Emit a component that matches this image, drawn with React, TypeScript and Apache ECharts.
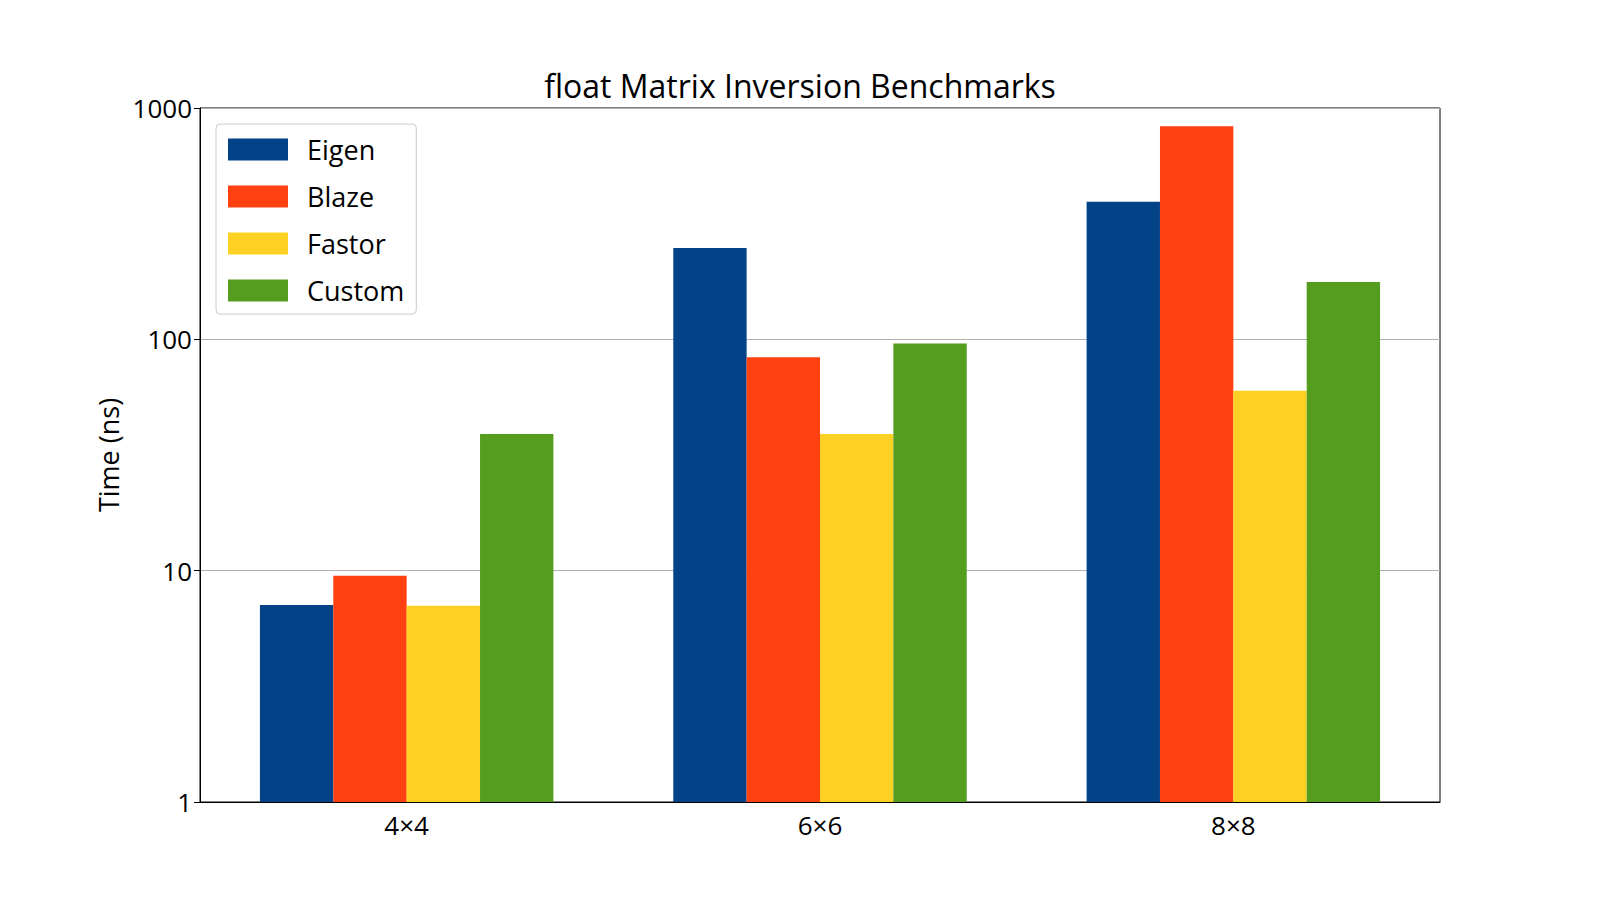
import React, { useEffect, useRef } from "react";
import * as echarts from "echarts";

const categories = ["4×4", "6×6", "8×8"];
const eigen = [7.1, 248, 393];
const blaze = [9.5, 83.6, 834];
const fastor = [7.05, 39, 60];
const custom = [39, 96, 177];
const seriesNames = ["Eigen", "Blaze", "Fastor", "Custom"];
const colors = ["#034287", "#FF4112", "#FDD123", "#559D1F"];

export default function App() {
  const ref = useRef<HTMLDivElement>(null);
  useEffect(() => {
    const chart = echarts.init(ref.current!, null, { renderer: "svg" });
    const font = "Open Sans";
    const data = [eigen, blaze, fastor, custom];
    chart.setOption({
      animation: false,
      textStyle: { fontFamily: font },
      title: {
        text: "float Matrix Inversion Benchmarks",
        left: "center",
        top: 56,
        textStyle: { fontSize: 32, fontWeight: "normal", color: "#000", fontFamily: font },
      },
      grid: { left: 192, right: 152, top: 100, bottom: 90, show: true, borderColor: "#000", borderWidth: 1 },
      legend: {
        orient: "vertical",
        left: 208,
        top: 116,
        padding: [12, 12, 10, 12],
        itemGap: 20,
        itemWidth: 60,
        itemHeight: 22,
        icon: "rect",
        borderColor: "#ccc",
        borderWidth: 1,
        borderRadius: 4,
        textStyle: { fontSize: 27, color: "#000", fontFamily: font, padding: [0, 0, 0, 14] },
        data: seriesNames,
      },
      xAxis: {
        type: "category",
        data: categories,
        axisLine: { lineStyle: { color: "#000" } },
        axisTick: { alignWithLabel: true, lineStyle: { color: "#000" }, length: 6 },
        axisLabel: { fontSize: 26, color: "#000", margin: 10 },
      },
      yAxis: {
        type: "log",
        logBase: 10,
        min: 1,
        max: 1000,
        name: "Time (ns)",
        nameLocation: "middle",
        nameGap: 72,
        nameTextStyle: { fontSize: 27, color: "#000" },
        axisLine: { show: true, lineStyle: { color: "#000" } },
        axisTick: { show: true, lineStyle: { color: "#000" }, length: 6 },
        axisLabel: { fontSize: 26, color: "#000", formatter: (v: number) => String(Math.round(v)) },
        splitLine: { show: true, lineStyle: { color: "#b0b0b0" } },
      },
      series: seriesNames.map((n, i) => ({
        name: n,
        type: "bar",
        data: data[i],
        barGap: "0%",
        barCategoryGap: "29%",
        itemStyle: { color: colors[i] },
      })),
    });
    return () => chart.dispose();
  }, []);
  return <div ref={ref} style={{ width: 1584, height: 884 }} />;
}
